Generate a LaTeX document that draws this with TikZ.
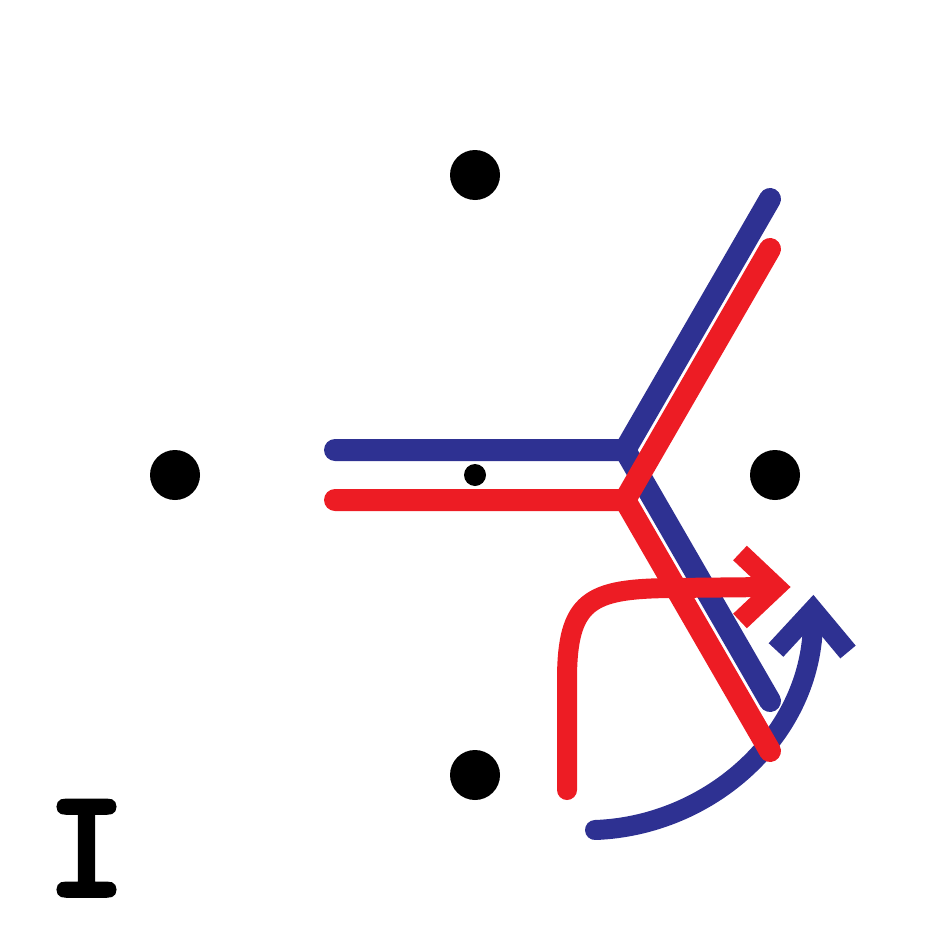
\documentclass[tikz,border=0pt]{standalone}
\usepackage{fontspec}
\newfontfamily\labfont{Latin Modern Mono}[FakeBold=5]
\definecolor{ybl}{HTML}{2E3192}
\definecolor{yrd}{HTML}{ED1C24}
\begin{document}
\begin{tikzpicture}[x=1pt,y=-1pt,
  dot/.style={circle,fill=black,inner sep=0pt,minimum size=50pt},
  smalldot/.style={circle,fill=black,inner sep=0pt,minimum size=22pt},
  yline/.style={line width=22pt,line cap=round,line join=miter},
  arrline/.style={line width=20pt,line cap=round},
  chev/.style={line width=20pt,line cap=butt,line join=miter,miter limit=10}]
\useasboundingbox (0,0) rectangle (950,950);
\node[dot] (top) at (475,175) {};
\node[dot] (left) at (175,475) {};
\node[dot] (right) at (775,475) {};
\node[dot] (bottom) at (475,775) {};
\node[smalldot] (mid) at (475,475) {};
% blue Y
\coordinate (bc) at (625,450);
\coordinate (bl) at (335,450);
\coordinate (bu) at (770,199);
\coordinate (bd) at (770,701);
\draw[yline,ybl] (bl) -- (bc) -- (bu);
\draw[yline,ybl] (bc) -- (bd);
% blue arc arrow
\coordinate (bas) at (595,830);
\coordinate (bae) at (813,620);
\coordinate (bat) at (813,610);
\coordinate (bal) at (776,650);
\coordinate (bar) at (848,652);
\draw[arrline,ybl] (bas) .. controls (710,826) and (813,735) .. (bae);
\draw[chev,ybl] (bal) -- (bat) -- (bar);
% red Y
\coordinate (rc) at (625,500);
\coordinate (rl) at (335,500);
\coordinate (ru) at (770,249);
\coordinate (rd) at (770,751);
\draw[yline,yrd] (rl) -- (rc) -- (ru);
\draw[yline,yrd] (rc) -- (rd);
% red arrow
\coordinate (ras) at (567,790);
\coordinate (rav) at (567,680);
\coordinate (rah) at (670,588);
\coordinate (rae) at (770,587);
\coordinate (rat) at (776,587);
\coordinate (rau) at (740,553);
\coordinate (rad) at (740,621);
\draw[arrline,yrd] (ras) -- (rav) .. controls (567,600) and (590,589) .. (rah) -- (rae);
\draw[chev,yrd] (rau) -- (rat) -- (rad);
% label
\node[anchor=base,inner sep=0pt,font=\fontsize{150}{150}\selectfont\labfont] (lab) at (86.5,894) {I};
\end{tikzpicture}
\end{document}
